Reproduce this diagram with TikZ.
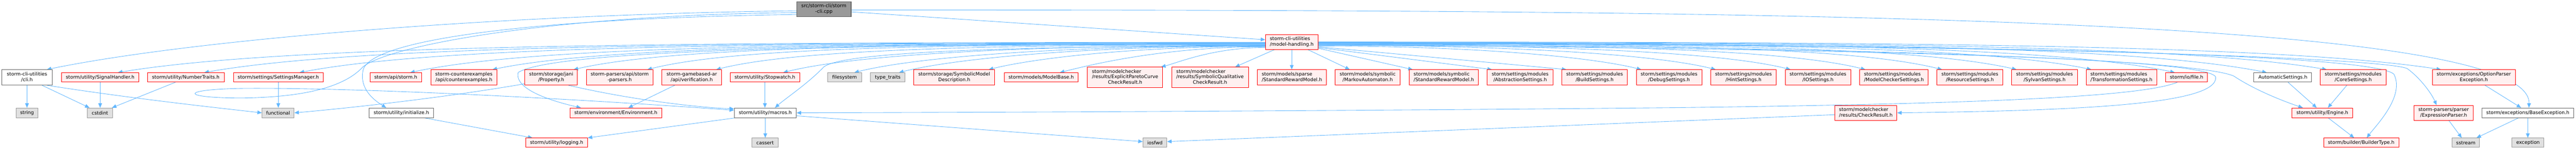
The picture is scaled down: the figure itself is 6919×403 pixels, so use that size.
\documentclass[tikz,border=0pt]{standalone}
\usepackage{fontspec}
\setmainfont{DejaVu Sans}
\usetikzlibrary{arrows.meta,calc}
\pgfdeclarelayer{background}
\pgfdeclarelayer{canvas}
\pgfsetlayers{canvas,background,main}
\definecolor{edgec}{HTML}{63B8FF}
\definecolor{redfill}{HTML}{FFF0F0}
\definecolor{grayfill}{HTML}{E0E0E0}
\definecolor{grayline}{HTML}{999999}
\definecolor{darkline}{HTML}{666666}
\definecolor{mainfill}{HTML}{999999}
\newcommand\mlt[2]{\begin{tabular}{@{}l@{}}#1\\\multicolumn{1}{@{}c@{}}{#2}\end{tabular}}
\newcommand\mlth[3]{\begin{tabular}{@{}l@{}}#1\\#2\\\multicolumn{1}{@{}c@{}}{#3}\end{tabular}}
\newcommand\mhe[2]{\draw[dep] let \p1=(#1), \p2=(#2) in (\p1) .. controls ({\x1+0.5*(\x2-\x1)},\y1) and ({\x2+0.15*(\x1-\x2)},{min(\y2+0.0375*abs(\x1-\x2),\y1-5pt)}) .. (\p2);}
\tikzset{
 box/.style={draw, line width=1.4pt, inner sep=0pt, font=\fontsize{12.9}{14.7}\selectfont, anchor=center},
 redb/.style={box, draw=red, fill=redfill},
 whiteb/.style={box, draw=darkline, fill=white},
 grayb/.style={box, draw=grayline, fill=grayfill},
 mainb/.style={box, draw=darkline, fill=mainfill},
 h1/.style={minimum height=25pt},
 h2/.style={minimum height=41pt},
 h3/.style={minimum height=55pt},
 dep/.style={draw=edgec, line width=1.2pt, -{Triangle[length=12pt,width=10pt]}},
}
\begin{document}
\begin{tikzpicture}[x=1pt,y=-1pt]
\begin{pgfonlayer}{canvas}
\fill[white] (0,0) rectangle (6919,403);
\end{pgfonlayer}
\useasboundingbox (0,0) rectangle (6919,403);
% row 1
\node[mainb,minimum height=40pt,minimum width=146pt] (main) at (2213,25) {\mlt{src/storm-cli/storm}{-cli.cpp}};
\node[redb,minimum height=40pt,minimum width=141pt] (mh) at (3469.5,113) {\mlt{storm-cli-utilities}{/model-handling.h}};
% row 2
\node[whiteb,h2,minimum width=135pt] (cli) at (72.5,208.5) {\mlt{storm-cli-utilities}{/cli.h}};
\node[redb,h1,minimum width=208pt] (sig) at (269,208.5) {storm/utility/SignalHandler.h};
\node[redb,h1,minimum width=206pt] (num) at (499,208.5) {storm/utility/NumberTraits.h};
\node[redb,h1,minimum width=241pt] (setm) at (747.5,208.5) {storm/settings/SettingsManager.h};
\node[redb,h1,minimum width=138pt] (api) at (1063,208.5) {storm/api/storm.h};
\node[redb,h2,minimum width=178pt] (cex) at (1246,208.5) {\mlt{storm-counterexamples}{/api/counterexamples.h}};
\node[redb,h2,minimum width=141pt] (prop) at (1480.5,208.5) {\mlt{storm/storage/jani}{/Property.h}};
\node[redb,h2,minimum width=179pt] (pars) at (1664.5,208.5) {\mlt{storm-parsers/api/storm}{-parsers.h}};
\node[redb,h2,minimum width=160pt] (game) at (1858,208.5) {\mlt{storm-gamebased-ar}{/api/verification.h}};
\node[redb,h1,minimum width=187pt] (stop) at (2054.5,208.5) {storm/utility/Stopwatch.h};
\node[grayb,h1,minimum width=91pt] (fs) at (2268.5,208.5) {filesystem};
\node[grayb,h1,minimum width=93pt] (tt) at (2384.5,208.5) {type\_traits};
\node[redb,h2,minimum width=218pt] (smd) at (2563,208.5) {\mlt{storm/storage/SymbolicModel}{Description.h}};
\node[redb,h1,minimum width=199pt] (mb) at (2796.5,208.5) {storm/models/ModelBase.h};
\node[redb,h3,minimum width=202pt] (epc) at (3022,208.5) {\mlth{storm/modelchecker}{/results/ExplicitParetoCurve}{CheckResult.h}};
\node[redb,h3,minimum width=206pt] (sqc) at (3250,208.5) {\mlth{storm/modelchecker}{/results/SymbolicQualitative}{CheckResult.h}};
\node[redb,h2,minimum width=186pt] (srm) at (3470,208.5) {\mlt{storm/models/sparse}{/StandardRewardModel.h}};
\node[redb,h2,minimum width=175pt] (ma) at (3673.5,208.5) {\mlt{storm/models/symbolic}{/MarkovAutomaton.h}};
\node[redb,h2,minimum width=186pt] (ssrm) at (3878,208.5) {\mlt{storm/models/symbolic}{/StandardRewardModel.h}};
\node[redb,h2,minimum width=178pt] (abs) at (4083,208.5) {\mlt{storm/settings/modules}{/AbstractionSettings.h}};
\node[redb,h2,minimum width=176pt] (bld) at (4283,208.5) {\mlt{storm/settings/modules}{/BuildSettings.h}};
\node[redb,h2,minimum width=176pt] (dbg) at (4483,208.5) {\mlt{storm/settings/modules}{/DebugSettings.h}};
\node[redb,h2,minimum width=176pt] (hint) at (4683,208.5) {\mlt{storm/settings/modules}{/HintSettings.h}};
\node[redb,h2,minimum width=176pt] (ios) at (4883,208.5) {\mlt{storm/settings/modules}{/IOSettings.h}};
\node[redb,h2,minimum width=184pt] (mcs) at (5087,208.5) {\mlt{storm/settings/modules}{/ModelCheckerSettings.h}};
\node[redb,h2,minimum width=176pt] (res) at (5291,208.5) {\mlt{storm/settings/modules}{/ResourceSettings.h}};
\node[redb,h2,minimum width=177pt] (syl) at (5491.5,208.5) {\mlt{storm/settings/modules}{/SylvanSettings.h}};
\node[redb,h2,minimum width=190pt] (trf) at (5698,208.5) {\mlt{storm/settings/modules}{/TransformationSettings.h}};
\node[redb,h1,minimum width=112pt] (file) at (5873,208.5) {storm/io/file.h};
\node[whiteb,h1,minimum width=155pt] (auto) at (6131.5,208.5) {AutomaticSettings.h};
\node[redb,h2,minimum width=177pt] (core) at (6320.5,208.5) {\mlt{storm/settings/modules}{/CoreSettings.h}};
\node[redb,h2,minimum width=223pt] (ope) at (6644.5,208.5) {\mlt{storm/exceptions/OptionParser}{Exception.h}};
% row 3
\node[grayb,minimum height=26pt,minimum width=59pt] (str) at (72.5,304) {string};
\node[grayb,minimum height=26pt,minimum width=67pt] (cst) at (268.5,304) {cstdint};
\node[grayb,minimum height=26pt,minimum width=86pt] (fun) at (747,304) {functional};
\node[whiteb,minimum height=26pt,minimum width=174pt] (init) at (1078,304) {storm/utility/initialize.h};
\node[redb,minimum height=26pt,minimum width=246pt] (env) at (1654,304) {storm/environment/Environment.h};
\node[whiteb,minimum height=26pt,minimum width=167pt] (mac) at (2055.5,304) {storm/utility/macros.h};
\node[redb,minimum height=40pt,minimum width=167pt] (chk) at (5011.5,304) {\mlt{storm/modelchecker}{/results/CheckResult.h}};
\node[redb,minimum height=26pt,minimum width=163pt] (eng) at (6237.5,304) {storm/utility/Engine.h};
\node[redb,minimum height=40pt,minimum width=159pt] (exp) at (6563.5,304) {\mlt{storm-parsers/parser}{/ExpressionParser.h}};
\node[whiteb,minimum height=26pt,minimum width=247pt] (bex) at (6789.5,304) {storm/exceptions/BaseException.h};
% row 4
\node[redb,h1,minimum width=166pt] (log) at (1495,384.5) {storm/utility/logging.h};
\node[grayb,h1,minimum width=70pt] (cas) at (2055,384.5) {cassert};
\node[grayb,h1,minimum width=64pt] (iof) at (3102,384.5) {iosfwd};
\node[redb,h1,minimum width=202pt] (bt) at (6342,384.5) {storm/builder/BuilderType.h};
\node[grayb,h1,minimum width=74pt] (sst) at (6623,384.5) {sstream};
\node[grayb,h1,minimum width=86pt] (exc) at (6790,384.5) {exception};
\begin{pgfonlayer}{background}
% from main
\draw[dep] ($(main.east)+(0,7)$) -- ($(mh.west)+(0,-6)$);
\draw[dep] ($(main.west)+(0,4)$) .. controls (1300,40) and (500,110) .. ($(cli.north east)+(-15,0)$);
\draw[dep] ($(main.west)+(0,14)$) .. controls (1400,50) and (990,110) .. (975,190) .. controls (965,240) and (1005,270) .. ($(init.north west)+(47,0)$);
\draw[dep] ($(main.west)+(0,9)$) .. controls (1500,40) and (1050,120) .. (975,180) .. controls (920,240) and (800,262) .. (650,264) .. controls (480,264) and (480,240) .. (660,238) .. controls (1000,236) and (1600,270) .. ($(mac.west)+(0,-7)$);
\draw[dep] ($(main.east)+(0,2)$) .. controls (4500,27) and (6800,30) .. ($(bex.north)+(3,0)$);
% model-handling, left side
\mhe{$(mh.west)+(0,1)$}{$(sig.north east)+(-57,0)$}
\mhe{$(mh.west)+(0,2)$}{$(num.north east)+(-54,0)$}
\mhe{$(mh.west)+(0,3)$}{$(setm.north east)+(-64,0)$}
\mhe{$(mh.west)+(0,4)$}{$(api.north east)+(-31,0)$}
\mhe{$(mh.west)+(0,5)$}{$(cex.north east)+(-13,0)$}
\mhe{$(mh.west)+(0,6)$}{$(prop.north east)+(-11,0)$}
\mhe{$(mh.west)+(0,7)$}{$(pars.north east)+(-16,0)$}
\mhe{$(mh.west)+(0,8)$}{$(game.north east)+(-15,0)$}
\mhe{$(mh.west)+(0,9)$}{$(stop.north east)+(-45,0)$}
\mhe{$(mh.west)+(0,10)$}{$(fs.north east)+(-20,0)$}
\mhe{$(mh.west)+(0,11)$}{$(tt.north east)+(-17,0)$}
\mhe{$(mh.west)+(0,12)$}{$(smd.north east)+(-17,0)$}
\mhe{$(mh.west)+(0,13)$}{$(mb.north east)+(-50,0)$}
\mhe{$(mh.west)+(0,15)$}{$(epc.north east)+(-5,0)$}
\draw[dep] ($(mh.west)+(0,5)$) .. controls (2400,118) and (1500,130) .. (1392,195) .. controls (1380,240) and (1480,272) .. ($(env.north west)+(30,0)$);
\draw[dep] ($(mh.west)+(0,10)$) .. controls (2600,125) and (2260,145) .. (2213,180) .. controls (2170,225) and (2110,265) .. ($(mac.north)+(26,0)$);
% model-handling, below
\draw[dep] ($(mh.south west)+(25,0)$) -- ($(sqc.north east)+(-36,0)$);
\draw[dep] (mh.south) -- (mh.south |- srm.north);
\draw[dep] ($(mh.south east)+(-28,0)$) -- ($(ma.north west)+(40,0)$);
% model-handling, right side
\draw[dep] ($(mh.east)+(0,17)$) -- ($(ssrm.north west)+(10,0)$);
\draw[dep] ($(mh.east)+(0,15)$) -- ($(abs.north west)+(14,0)$);
\draw[dep] ($(mh.east)+(0,13)$) -- ($(bld.north west)+(13,0)$);
\mhe{$(mh.east)+(0,11)$}{$(dbg.north west)+(14,0)$}
\mhe{$(mh.east)+(0,9)$}{$(hint.north west)+(14,0)$}
\mhe{$(mh.east)+(0,8)$}{$(ios.north west)+(15,0)$}
\mhe{$(mh.east)+(0,7)$}{$(mcs.north west)+(16,0)$}
\mhe{$(mh.east)+(0,6)$}{$(res.north west)+(14,0)$}
\mhe{$(mh.east)+(0,5)$}{$(syl.north west)+(14,0)$}
\mhe{$(mh.east)+(0,4)$}{$(trf.north west)+(15,0)$}
\mhe{$(mh.east)+(0,3)$}{$(file.north west)+(25,0)$}
\mhe{$(mh.east)+(0,2)$}{$(auto.north west)+(35,0)$}
\mhe{$(mh.east)+(0,1)$}{$(core.north west)+(18,0)$}
\mhe{$(mh.east)+(0,0)$}{$(ope.north west)+(24,0)$}
\draw[dep] ($(mh.east)+(0,8)$) .. controls (4800,130) and (5920,150) .. (5951,207) .. controls (5960,280) and (5600,298) .. (chk.east);
\draw[dep] ($(mh.east)+(0,6)$) .. controls (5000,125) and (5900,160) .. (6000,205) .. controls (6060,245) and (6140,275) .. ($(eng.north west)+(30,0)$);
\draw[dep] ($(mh.east)+(0,2)$) .. controls (5500,120) and (6380,150) .. (6430,200) .. controls (6460,260) and (6380,340) .. ($(bt.north)+(15,0)$);
\draw[dep] ($(mh.east)+(0,3)$) .. controls (5600,120) and (6420,160) .. (6466,185) .. controls (6500,210) and (6530,250) .. ($(exp.north)+(-19,0)$);
% other includes
\draw[dep] (cli.south) -- (str.north);
\draw[dep] ($(cli.south east)+(-28,0)$) -- ($(cst.north west)+(6,0)$);
\draw[dep] ($(cli.south east)+(-15,0)$) .. controls (350,265) and (580,290) .. (fun.west);
\draw[dep] (sig.south) -- (sig.south |- cst.north);
\draw[dep] ($(num.south)+(-28,0)$) -- ($(cst.north east)+(-2,0)$);
\draw[dep] (setm.south) -- (setm.south |- fun.north);
\draw[dep] ($(prop.south west)+(0,-4)$) .. controls (1200,262) and (950,290) .. (fun.east);
\draw[dep] ($(prop.south east)+(-25,0)$) .. controls (1700,270) and (1880,290) .. ($(mac.west)+(0,-11)$);
\draw[dep] ($(game.south west)+(35,0)$) -- ($(env.north east)+(-90,0)$);
\draw[dep] (stop.south) -- (stop.south |- mac.north);
\draw[dep] ($(init.south)+(62,0)$) -- ($(log.north west)+(19,0)$);
\draw[dep] ($(mac.south west)+(3,0)$) -- (log.north east);
\draw[dep] (mac.south) -- (mac.south |- cas.north);
\draw[dep] ($(mac.east)+(0,8)$) -- ($(iof.west)+(0,-3)$);
\draw[dep] ($(chk.west)+(0,5)$) -- ($(iof.east)+(0,-3)$);
\draw[dep] ($(file.south)+(-25,0)$) .. controls (5750,262) and (5300,280) .. (4500,290) .. controls (3500,300) and (2500,303) .. (mac.east);
\draw[dep] ($(auto.south)+(14,0)$) -- ($(eng.north)+(-15,0)$);
\draw[dep] ($(core.south)+(-17,0)$) -- ($(eng.north)+(15,0)$);
\draw[dep] ($(eng.south)+(16,0)$) -- ($(bt.north)+(-19,0)$);
\draw[dep] ($(ope.south)+(30,0)$) -- ($(bex.north)+(-18,0)$);
\draw[dep] ($(exp.south)+(14,0)$) -- ($(sst.north)+(-11,0)$);
\draw[dep] ($(bex.south)+(-25,0)$) -- ($(sst.north east)+(-9,0)$);
\draw[dep] (bex.south) -- (bex.south |- exc.north);
\end{pgfonlayer}
\end{tikzpicture}
\end{document}
